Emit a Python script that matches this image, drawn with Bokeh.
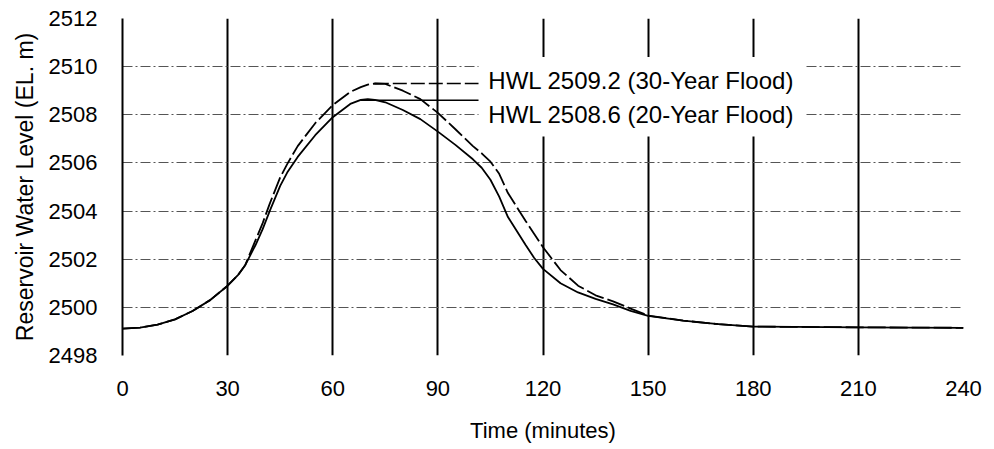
from bokeh.plotting import figure
from bokeh.models import Range1d, FixedTicker, ColumnDataSource
from bokeh.core.properties import value
from bokeh.embed import file_html
from bokeh.resources import INLINE

# ---- data ----
time_min = [0, 5, 10, 15, 20, 25, 30, 33, 35, 38, 40, 42, 45, 47, 50, 55, 60, 65, 68,
            70, 72, 75, 80, 85, 90, 95, 100, 102.5, 105, 107.5, 110, 115, 117.5, 120,
            125, 130, 135, 140, 145, 150, 160, 170, 180, 210, 240]

level_20yr = [2499.12, 2499.16, 2499.28, 2499.50, 2499.85, 2500.30, 2500.90, 2501.35,
              2501.75, 2502.60, 2503.25, 2504.00, 2505.05, 2505.60, 2506.25, 2507.15,
              2507.90, 2508.45, 2508.62, 2508.65, 2508.62, 2508.52, 2508.20, 2507.82,
              2507.30, 2506.75, 2506.15, 2505.80, 2505.30, 2504.60, 2503.75, 2502.60,
              2502.05, 2501.60, 2501.00, 2500.62, 2500.35, 2500.12, 2499.85, 2499.65,
              2499.45, 2499.30, 2499.20, 2499.17, 2499.15]

level_30yr = [2499.12, 2499.16, 2499.28, 2499.50, 2499.85, 2500.30, 2500.90, 2501.35,
              2501.75, 2502.80, 2503.50, 2504.30, 2505.40, 2505.95, 2506.70, 2507.65,
              2508.40, 2508.95, 2509.15, 2509.25, 2509.30, 2509.28, 2509.00, 2508.65,
              2508.08, 2507.40, 2506.70, 2506.40, 2506.05, 2505.55, 2504.75, 2503.60,
              2503.05, 2502.50, 2501.55, 2500.90, 2500.50, 2500.25, 2499.95, 2499.66,
              2499.45, 2499.30, 2499.20, 2499.17, 2499.15]

hwl_levels = [2509.3, 2508.6]
hwl_labels = ["HWL 2509.2 (30-Year Flood)", "HWL 2508.6 (20-Year Flood)"]

x_ticks = [0, 30, 60, 90, 120, 150, 180, 210, 240]
y_ticks = [2498, 2500, 2502, 2504, 2506, 2508, 2510, 2512]

FONT = "Liberation Sans"

p = figure(width=994, height=449,
           x_range=Range1d(0, 240), y_range=Range1d(2498, 2512),
           output_backend="svg", toolbar_location=None,
           min_border_left=122, min_border_right=31,
           min_border_top=18, min_border_bottom=94)
p.background_fill_color = "white"
p.border_fill_color = "white"
p.outline_line_color = None

# axes
p.xaxis.ticker = FixedTicker(ticks=x_ticks)
p.yaxis.ticker = FixedTicker(ticks=y_ticks)
for ax in (p.xaxis[0], p.yaxis[0]):
    ax.major_tick_line_color = None
    ax.minor_tick_line_color = None
    ax.major_tick_out = 0
    ax.major_tick_in = 0
    ax.major_label_text_font = FONT
    ax.axis_label_text_font = FONT
    ax.axis_label_text_font_style = "normal"
    ax.major_label_text_color = "black"
    ax.axis_label_text_color = "black"

p.xaxis.axis_line_color = None
p.xaxis.major_label_text_font_size = "22px"
p.xaxis.major_label_standoff = 25
p.xaxis.axis_label = "Time (minutes)"
p.xaxis.axis_label_text_font_size = "22px"
p.xaxis.axis_label_standoff = 19

p.yaxis.axis_line_color = "black"
p.yaxis.axis_line_width = 2
p.yaxis.major_label_text_font_size = "22px"
p.yaxis.major_label_standoff = 25
p.yaxis.axis_label = "Reservoir Water Level (EL. m)"
p.yaxis.axis_label_text_font_size = "23px"
p.yaxis.axis_label_standoff = 8

# grids
p.xgrid.ticker = FixedTicker(ticks=x_ticks)
p.xgrid.grid_line_color = "black"
p.xgrid.grid_line_width = 2
p.ygrid.ticker = FixedTicker(ticks=y_ticks)
p.ygrid.grid_line_color = "#555555"
p.ygrid.grid_line_width = 1
p.ygrid.grid_line_dash = "10 3 2 3"

# white label box covering the grid behind the labels
p.quad(left=[101.6], right=[195.0], bottom=[2507.1], top=[2510.4],
       fill_color="white", line_color=None)

# curves
src = ColumnDataSource(dict(t=time_min, l20=level_20yr, l30=level_30yr))
p.line("t", "l20", source=src, line_color="black", line_width=1.8)
p.line("t", "l30", source=src, line_color="black", line_width=1.8, line_dash="18 4")

# HWL leader lines from each peak to the label box
t_peak30 = time_min[level_30yr.index(max(level_30yr))]
t_peak20 = time_min[level_20yr.index(max(level_20yr))]
p.line([t_peak30, 101.6], [hwl_levels[0], hwl_levels[0]], line_color="black",
       line_width=1.5, line_dash="14 4")
p.line([t_peak20 - 2, 101.6], [hwl_levels[1], hwl_levels[1]], line_color="black",
       line_width=1.5)

p.text(x=[104.4, 104.4], y=[2509.43, 2508.0], text=hwl_labels,
       text_font=value(FONT), text_font_size="24px", text_color="black",
       text_baseline="middle", text_align="left")

open("out.html", "w").write(file_html(p, INLINE))
